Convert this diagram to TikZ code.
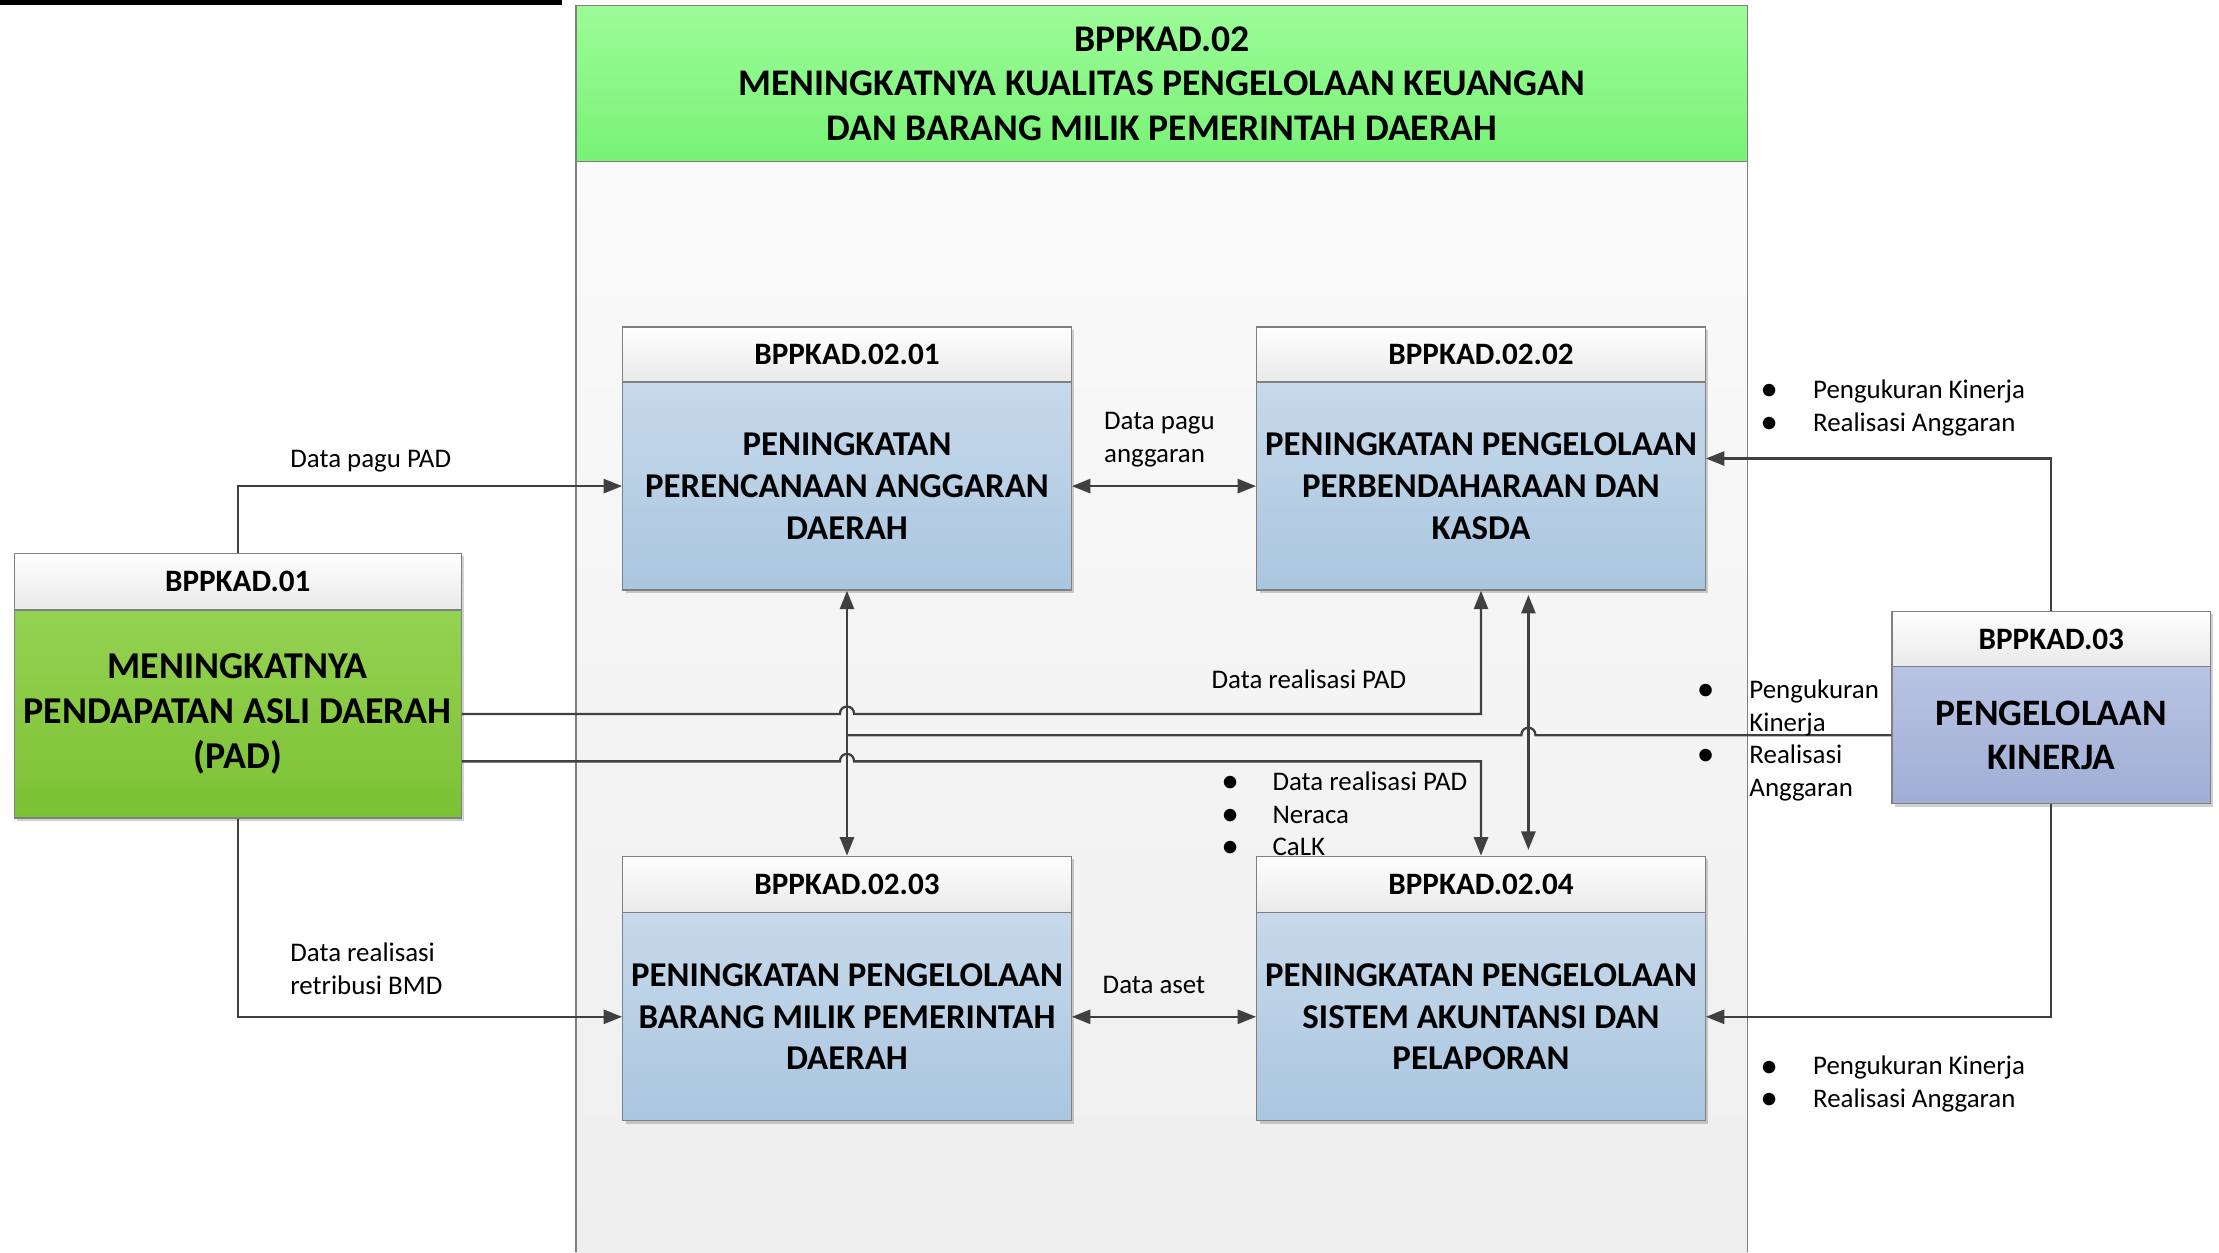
\documentclass[tikz,border=0pt]{standalone}
\usepackage{fontspec}
\setmainfont{Carlito}
\usetikzlibrary{arrows.meta,shadows}
\definecolor{ln}{HTML}{404040}
\definecolor{bord}{HTML}{808080}
\definecolor{hdrgray}{HTML}{E9E9E9}
\definecolor{blueT}{RGB}{199,217,234}
\definecolor{blueB}{RGB}{170,198,224}
\definecolor{greenT}{RGB}{148,210,82}
\definecolor{greenB}{RGB}{124,194,52}
\definecolor{purT}{RGB}{184,196,227}
\definecolor{purB}{RGB}{160,174,214}
\definecolor{hgT}{RGB}{156,252,152}
\definecolor{hgB}{RGB}{120,242,118}
\definecolor{contT}{RGB}{250,250,250}
\definecolor{contB}{RGB}{238,238,238}
\newcommand{\bul}{\makebox[10pt]{\raisebox{-1.5pt}{\fontsize{25}{25}\selectfont\textbullet}}}
\begin{document}
\begin{tikzpicture}[x=1pt,y=-1pt,
  shd/.style={drop shadow={shadow xshift=2pt,shadow yshift=-2pt,opacity=0.18,fill=black}},
  hdr/.style={draw=bord,line width=0.9pt,top color=white,bottom color=hdrgray,shd,
    minimum height=39pt,inner sep=0pt,font=\fontsize{22}{26}\selectfont\bfseries},
  blubody/.style={draw=bord,line width=0.9pt,top color=blueT,bottom color=blueB,shd,
    minimum height=147pt,inner sep=0pt,align=center,font=\fontsize{24.6}{29.5}\selectfont\bfseries},
  grnbody/.style={draw=bord,line width=0.9pt,top color=greenT,bottom color=greenB,shd,
    minimum height=147pt,inner sep=0pt,align=center,font=\fontsize{26.8}{32}\selectfont\bfseries},
  purbody/.style={draw=bord,line width=0.9pt,top color=purT,bottom color=purB,shd,
    minimum height=97pt,inner sep=0pt,align=center,font=\fontsize{26.4}{31}\selectfont\bfseries},
  conn/.style={draw=ln,line width=1.6pt},
  tip/.tip={Triangle[length=13pt,width=10pt]},
  lbl/.style={inner sep=0pt,anchor=west,align=left,font=\fontsize{19}{23}\selectfont},
]
\useasboundingbox (0,0) rectangle (1568,885);
\fill[black] (0,0) rectangle (397,3.5);
% container
\shade[top color=contT,bottom color=contB] (407,113) rectangle (1235,885);
\draw[bord,line width=1pt] (407,885) -- (407,113) (1235,113) -- (1235,885);
\node[draw=bord,line width=1pt,top color=hgT,bottom color=hgB,minimum width=828pt,minimum height=110pt,
  inner sep=0pt,align=center,font=\fontsize{26.6}{31.5}\selectfont\bfseries] (hdr02) at (821,59)
  {BPPKAD.02\\MENINGKATNYA KUALITAS PENGELOLAAN KEUANGAN\\DAN BARANG MILIK PEMERINTAH DAERAH};
% boxes 02.01-02.04
\node[hdr,minimum width=317pt] (h1) at (598.5,250.5) {BPPKAD.02.01};
\node[blubody,minimum width=317pt] (b1) at (598.5,343.5) {PENINGKATAN\\PERENCANAAN ANGGARAN\\DAERAH};
\node[hdr,minimum width=317pt] (h2) at (1046.5,250.5) {BPPKAD.02.02};
\node[blubody,minimum width=317pt] (b2) at (1046.5,343.5) {PENINGKATAN PENGELOLAAN\\PERBENDAHARAAN DAN\\KASDA};
\node[hdr,minimum width=317pt,minimum height=40pt] (h3) at (598.5,625) {BPPKAD.02.03};
\node[blubody,minimum width=317pt] (b3) at (598.5,718.5) {PENINGKATAN PENGELOLAAN\\BARANG MILIK PEMERINTAH\\DAERAH};
\node[hdr,minimum width=317pt,minimum height=40pt] (h4) at (1046.5,625) {BPPKAD.02.04};
\node[blubody,minimum width=317pt] (b4) at (1046.5,718.5) {PENINGKATAN PENGELOLAAN\\SISTEM AKUNTANSI DAN\\PELAPORAN};
% box 01
\node[hdr,minimum width=316pt,minimum height=40pt] (h01) at (168,411) {BPPKAD.01};
\node[grnbody,minimum width=316pt] (b01) at (168,504.5) {MENINGKATNYA\\PENDAPATAN ASLI DAERAH\\(PAD)};
% box 03
\node[hdr,minimum width=225pt] (h03) at (1449.5,451.5) {BPPKAD.03};
\node[purbody,minimum width=225pt] (b03) at (1449.5,519.5) {PENGELOLAAN\\KINERJA};
% connectors
\draw[conn,-tip] (h01.north) |- (b1.west);
\draw[conn,-tip] (b01.south) |- (b3.west);
\draw[conn,tip-tip] (b1.east) -- (b2.west);
\draw[conn,tip-tip] (b3.east) -- (b4.west);
\draw[conn,tip-tip] (b1.south) -- (h3.north);
\draw[conn,-tip] (b01.east) -- (593.5,504.5) .. controls (593.5,497.5) and (603.5,497.5) .. (603.5,504.5) -| (b2.south);
\draw[conn,-tip] ([yshift=-33.5pt]b01.east) -- (593.5,538) .. controls (593.5,531) and (603.5,531) .. (603.5,538) -| (h4.north);
\draw[conn] (b03.west) -- (1085,519.5) .. controls (1085,512.5) and (1075,512.5) .. (1075,519.5) -- (b1.south |- b03.west);
\draw[conn,tip-tip] ([xshift=33.5pt,yshift=-3pt]b2.south) -- ([xshift=33.5pt,yshift=4pt]h4.north);
\draw[conn,-tip] (h03.north) |- ([yshift=19.5pt]b2.east);
\draw[conn,-tip] (b03.south) |- (b4.east);
% labels
\node[lbl] (l1) at (205,326) {Data pagu PAD};
\node[lbl] (l2) at (780,310.5) {Data pagu\\anggaran};
\node[lbl] (l3) at (856,480) {Data realisasi PAD};
\node[lbl] (l4) at (205,684.5) {Data realisasi\\retribusi BMD};
\node[lbl] (l5) at (779,696) {Data aset};
\node[lbl] (l6) at (864,577) {\begin{tabular}{@{}l@{\hspace{25pt}}l@{}}\bul&Data realisasi PAD\\\bul&Neraca\\\bul&CaLK\end{tabular}};
\node[lbl] (l7) at (1245,288.5) {\begin{tabular}{@{}l@{\hspace{26pt}}l@{}}\bul&Pengukuran Kinerja\\\bul&Realisasi Anggaran\end{tabular}};
\node[lbl] (l8) at (1245,766.5) {\begin{tabular}{@{}l@{\hspace{26pt}}l@{}}\bul&Pengukuran Kinerja\\\bul&Realisasi Anggaran\end{tabular}};
\node[lbl] (l9) at (1200,523.5) {\begin{tabular}{@{}l@{\hspace{26pt}}l@{}}\bul&Pengukuran\\&Kinerja\\\bul&Realisasi\\&Anggaran\end{tabular}};
\end{tikzpicture}
\end{document}
